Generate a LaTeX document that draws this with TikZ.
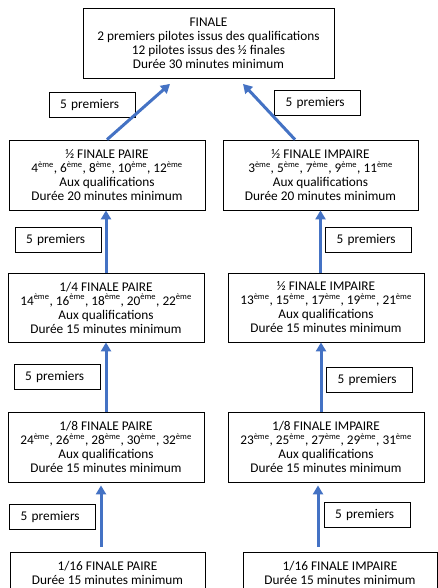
\documentclass[tikz,border=0pt]{standalone}
\usepackage{fontspec}
\setmainfont{Carlito}
\usetikzlibrary{arrows.meta,calc,positioning}
\definecolor{bleuword}{RGB}{68,114,196}
\tikzset{
	tour/.style={draw=black, line width=0.8pt, align=center, minimum width=196pt,
		minimum height=70pt, inner sep=2pt, font=\fontsize{13.3}{14}\selectfont},
	qualif/.style={draw=black, line width=0.8pt, align=left, text width=64pt,
		inner xsep=11pt, inner ysep=2pt, minimum height=25pt, font=\fontsize{13.3}{14}\selectfont},
	montee/.style={draw=bleuword, line width=3pt, -{Triangle[width=10pt,length=9pt]}},
}
\newcommand{\eme}{\textsuperscript{\fontsize{8.5}{8.5}\selectfont ème}}

\begin{document}
\begin{tikzpicture}[x=1pt, y=-1pt]
	\useasboundingbox (0,0) rectangle (438,588);
	\fill[white] (0,0) rectangle (438,588);
	\clip (0,0) rectangle (438,588);
	% finale
	\node[tour, minimum width=251pt] (finale) at (208.5,43.5)
		{FINALE\\2 premiers pilotes issus des qualifications\\12 pilotes issus des ½ finales\\Durée 30 minutes minimum};
	% demi-finales
	\node[tour] (demiP) at (107,175)
		{½ FINALE PAIRE\\4\eme, 6\eme, 8\eme, 10\eme, 12\eme\\Aux qualifications\\Durée 20 minutes minimum};
	\node[tour, minimum width=195pt] (demiI) at (320.5,175)
		{½ FINALE IMPAIRE\\3\eme, 5\eme, 7\eme, 9\eme, 11\eme\\Aux qualifications\\Durée 20 minutes minimum};
	% quarts
	\node[tour, minimum height=69pt] (quartP) at (106,307.5)
		{1/4 FINALE PAIRE\\14\eme, 16\eme, 18\eme, 20\eme, 22\eme\\Aux qualifications\\Durée 15 minutes minimum};
	\node[tour, minimum height=69pt] (quartI) at (326,307.5)
		{½ FINALE IMPAIRE\\13\eme, 15\eme, 17\eme, 19\eme, 21\eme\\Aux qualifications\\Durée 15 minutes minimum};
	% huitiemes
	\node[tour] (huitP) at (106,447)
		{1/8 FINALE PAIRE\\24\eme, 26\eme, 28\eme, 30\eme, 32\eme\\Aux qualifications\\Durée 15 minutes minimum};
	\node[tour] (huitI) at (326,447)
		{1/8 FINALE IMPAIRE\\23\eme, 25\eme, 27\eme, 29\eme, 31\eme\\Aux qualifications\\Durée 15 minutes minimum};
	% seiziemes
	\node[tour, minimum width=195pt] (seizeP) at (107.5,587)
		{1/16 FINALE PAIRE\\Durée 15 minutes minimum\\~\\~};
	\node[tour, minimum width=194pt] (seizeI) at (340,587)
		{1/16 FINALE IMPAIRE\\Durée 15 minutes minimum\\~\\~};
	% 5 premiers
	\node[qualif] (lblF1) at (92,104.5) {5 premiers};
	\node[qualif] (lblF2) at (317.5,102.5) {5 premiers};
	\node[qualif] (lblD1) at (58,240) {5 premiers};
	\node[qualif] (lblD2) at (368.5,240) {5 premiers};
	\node[qualif] (lblQ1) at (57,376.5) {5 premiers};
	\node[qualif] (lblQ2) at (369.5,379.5) {5 premiers};
	\node[qualif] (lblH1) at (52.5,516.5) {5 premiers};
	\node[qualif] (lblH2) at (367,515) {5 premiers};
	% fleches
	\draw[montee] (demiP.north) -- ($(finale.south)+(-38.5,5)$);
	\draw[montee] ($(demiI.north)+(-25.5,0)$) -- ($(finale.south)+(34.5,5)$);
	\draw[montee] (quartP.north) -- (quartP.north |- demiP.south);
	\draw[montee] (quartI.north -| demiI.south) -- (demiI.south);
	\draw[montee] (huitP.north) -- (quartP.south);
	\draw[montee] ($(huitI.north)+(-5,0)$) -- ($(quartI.south)+(-5,0)$);
	\draw[montee] ($(seizeP.north)+(-6.5,-5)$) -- ($(huitP.south)+(-5,3)$);
	\draw[montee] ($(seizeI.north)+(-22,-5)$) -- ($(huitI.south)+(-8,3)$);
\end{tikzpicture}
\end{document}
